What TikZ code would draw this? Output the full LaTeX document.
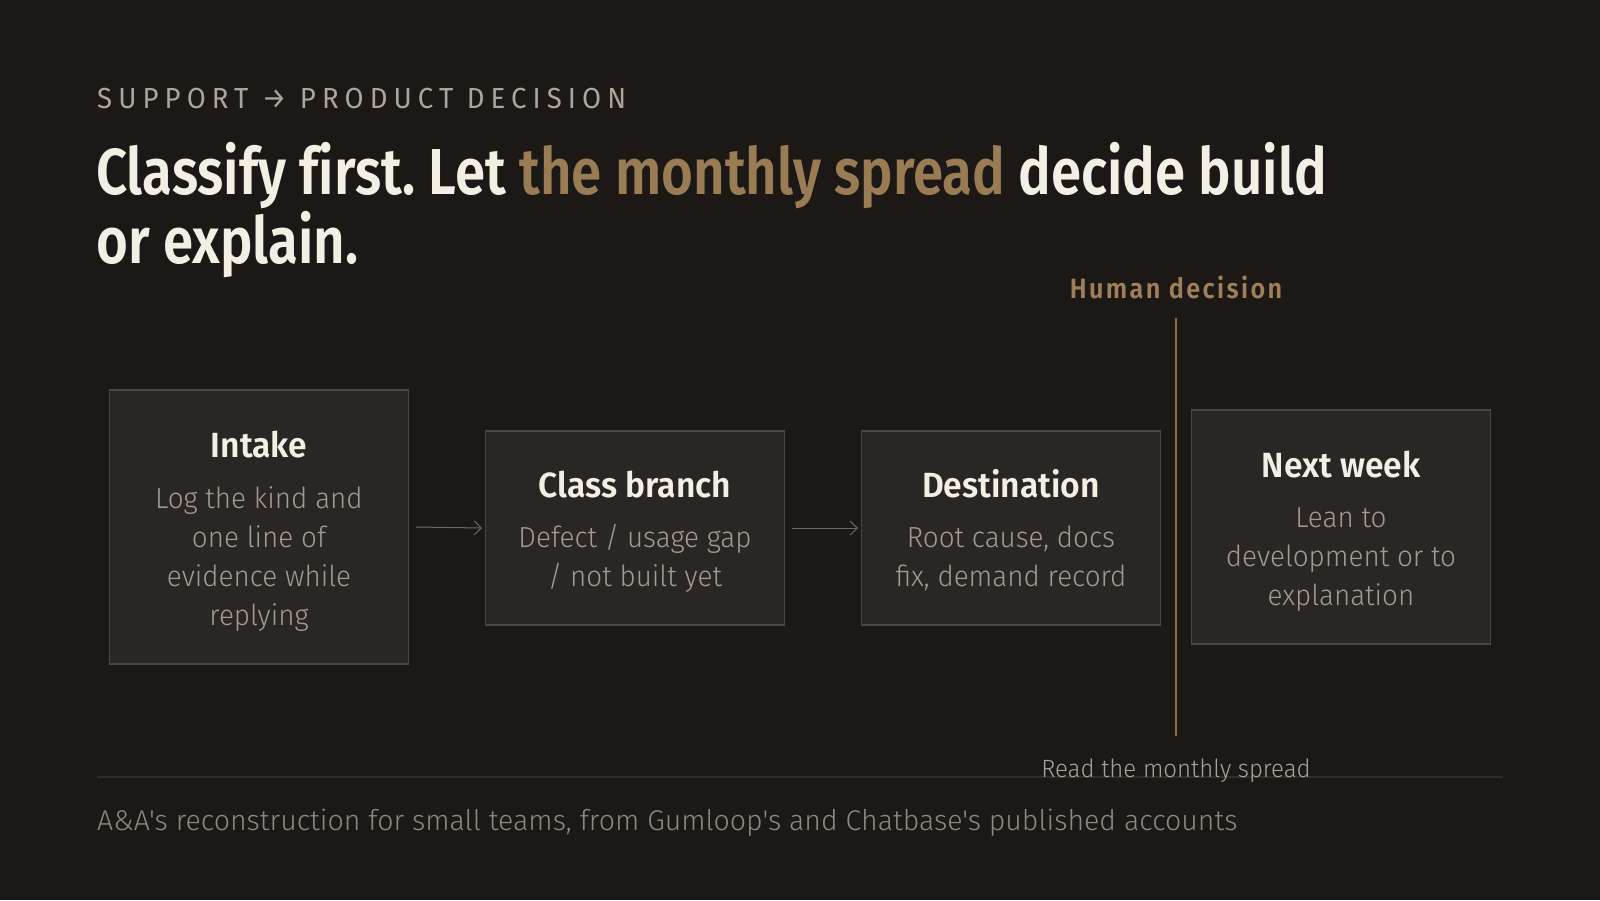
\documentclass[tikz,border=0pt]{standalone}
\usepackage{fontspec}
\setmainfont{Fira Sans}
\frenchspacing
\newfontfamily\lightb{Fira Sans Light}[FakeStretch=0.96]
\newfontfamily\lightr{Fira Sans Light}[FakeStretch=0.96]
\newfontfamily\lightc{Fira Sans Light}[FakeStretch=1.0]
\newfontfamily\semit{Fira Sans SemiBold}[FakeStretch=0.84,Ligatures=NoCommon]
\newfontfamily\semib{Fira Sans SemiBold}[FakeStretch=0.96]
\newfontfamily\eyef{Fira Sans}[FakeStretch=0.95,LetterSpace=21]
\newfontfamily\humanf{Fira Sans SemiBold}[FakeStretch=0.9,LetterSpace=8.5]
\definecolor{bg}{HTML}{1B1816}
\definecolor{titlec}{HTML}{F4EFE4}
\definecolor{goldc}{HTML}{9A7C54}
\definecolor{eyec}{HTML}{ADA59A}
\definecolor{boxfill}{HTML}{2A2623}
\definecolor{boxline}{HTML}{4B4641}
\definecolor{bodyc}{HTML}{A39B91}
\definecolor{arrowc}{HTML}{6E6862}
\definecolor{vlinec}{HTML}{8A6E4B}
\definecolor{humanc}{HTML}{A08058}
\definecolor{readc}{HTML}{AAA297}
\definecolor{footline}{HTML}{302C29}
\definecolor{footc}{HTML}{8F887F}
\usetikzlibrary{arrows.meta}
\tikzset{
  stagebox/.style={draw=boxline, line width=1.2pt, fill=boxfill, minimum width=299pt, inner sep=0pt},
  boxtitle/.style={anchor=base, text=titlec, font=\semib\fontsize{35}{40}\selectfont, inner sep=0pt},
  boxbody/.style={anchor=base, text=bodyc, align=center, font=\lightb\fontsize{29}{38.8}\selectfont, inner sep=0pt},
  flow/.style={draw=arrowc, line width=1pt, -{Straight Barb[length=7pt,width=14pt,line width=1pt]}},
}
\begin{document}
\begin{tikzpicture}[x=1pt,y=-1pt]
\fill[bg] (0,0) rectangle (1600,900);
\useasboundingbox (0,0) rectangle (1600,900);
% header
\node[anchor=base west, inner sep=0pt, text=eyec, font=\eyef\fontsize{29}{32}\selectfont] (eyebrow) at (97,108) {SUPPORT → PRODUCT DECISION};
\node[anchor=base west, inner sep=0pt, text=titlec, font=\semit\fontsize{65}{70}\selectfont] (title1) at (96,194) {Classify first. Let \textcolor{goldc}{the monthly spread} decide build};
\node[anchor=base west, inner sep=0pt, text=titlec, font=\semit\fontsize{65}{70}\selectfont] (title2) at (96,263) {or explain.};
% boxes
\node[stagebox, minimum height=274pt] (intake) at (259,527) {};
\node[stagebox, minimum height=194pt] (class) at (635,528) {};
\node[stagebox, minimum height=194pt] (dest) at (1011,528) {};
\node[stagebox, minimum height=234pt] (next) at (1341,527) {};
% box texts (base = baseline of last line)
\node[boxtitle] (intaket) at (259,457) {Intake};
\node[boxbody] (intakeb) at (259,625) {Log the kind and\\one line of\\evidence while\\replying};
\node[boxtitle] (classt) at (635,497) {Class branch};
\node[boxbody] (classb) at (635,586) {Defect / usage gap\\/ not built yet};
\node[boxtitle] (destt) at (1011,497) {Destination};
\node[boxbody] (destb) at (1011,586) {Root cause, docs\\fix, demand record};
\node[boxtitle] (nextt) at (1341,477) {Next week};
\node[boxbody] (nextb) at (1341,605) {Lean to\\development or to\\explanation};
% arrows
\draw[flow] ([xshift=7pt]intake.east) -- ([xshift=-3pt]class.west);
\draw[flow] ([xshift=7pt]class.east) -- ([xshift=-3pt]dest.west);
% human decision
\node[anchor=base, inner sep=0pt, text=humanc, font=\humanf\fontsize{28}{30}\selectfont] (human) at (1176,298) {Human decision};
\coordinate (vtop) at (1176,318);
\coordinate (vbot) at (1176,736);
\draw[vlinec, line width=2pt] (vtop) -- (vbot);
% footer
\coordinate (fl) at (97,777);
\coordinate (fr) at (1503,777);
\draw[footline, line width=1.2pt] (fl) -- (fr);
\node[anchor=base, inner sep=0pt, text=readc, font=\lightr\fontsize{25}{30}\selectfont] (read) at (1176,777) {Read the monthly spread};
\node[anchor=base west, inner sep=0pt, text=footc, font=\lightc\fontsize{28.5}{32}\selectfont] (foot) at (97,830) {A\&A's reconstruction for small teams, from Gumloop's and Chatbase's published accounts};
\end{tikzpicture}
\end{document}
